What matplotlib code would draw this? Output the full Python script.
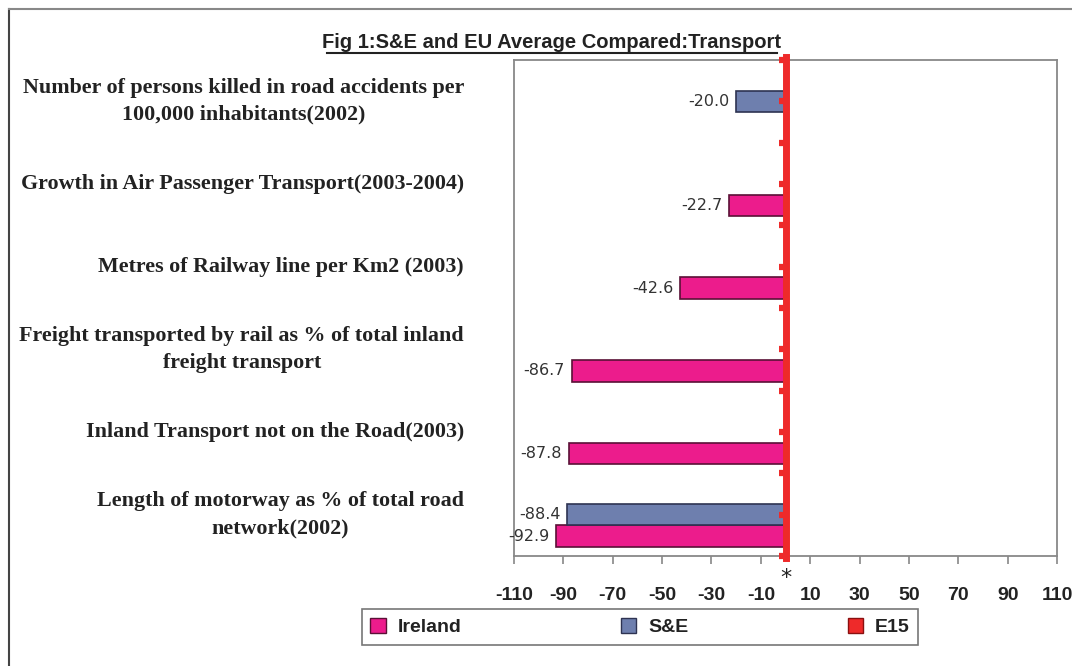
import matplotlib
matplotlib.use('Agg')
import matplotlib.pyplot as plt
import numpy as np
from matplotlib import font_manager
from matplotlib.lines import Line2D
from matplotlib.patches import Patch

categories = ['Number of persons killed in road accidents per\n100,000 inhabitants(2002)',
              'Growth in Air Passenger Transport(2003-2004)',
              'Metres of Railway line per Km2 (2003)',
              'Freight transported by rail as % of total inland\nfreight transport',
              'Inland Transport not on the Road(2003)',
              'Length of motorway as % of total road\nnetwork(2002)']
ireland = [np.nan, -22.7, -42.6, -86.7, -87.8, -92.9]
se = [-20.0, np.nan, np.nan, np.nan, np.nan, -88.4]
e15 = [0, 0, 0, 0, 0, 0]
series_names = ['Ireland', 'S&E', 'E15']
xticks = list(range(-110, 111, 20))
title = 'Fig 1:S&E and EU Average Compared:Transport'

pink = '#EC1C8C'
blue = '#6E7FAE'
red = '#EE2A2A'

names = {f.name for f in font_manager.fontManager.ttflist}
narrow = 'Liberation Sans Narrow' if 'Liberation Sans Narrow' in names else 'Liberation Sans'

W, H = 1072, 666
fig = plt.figure(figsize=(W / 100, H / 100), dpi=100)
ax = fig.add_axes([514 / W, 1 - 556 / H, (1057 - 514) / W, (556 - 60) / H])

y = np.arange(len(categories))
h = 0.26
# S&E in the middle, Ireland below, E15 above
for vals, off, col, ec in [(ireland, h, pink, '#5a1036'), (se, 0, blue, '#2e3352'), (e15, -h, red, red)]:
    for yi, v in zip(y, vals):
        if np.isnan(v) or v == 0:
            continue
        ax.barh(yi + off, v, height=h, color=col, edgecolor=ec, linewidth=1.2, zorder=2)
        ax.annotate(f'{v:.1f}', (v, yi + off), xytext=(-5, 0), textcoords='offset points',
                    ha='right', va='center', fontsize=11.5, color='#333333',
                    family='DejaVu Sans', zorder=5)

ax.set_xlim(-110, 110)
ax.set_ylim(len(categories) - 0.5, -0.5)
ax.set_xticks(xticks)
ax.set_xticklabels([str(t) for t in xticks], fontsize=14, fontweight='bold',
                   family=narrow, color='#222222')
ax.set_yticks([])
ax.tick_params(axis='x', length=6, width=1.2, color='#888888', pad=16)
for s in ax.spines.values():
    s.set_color('#888888')
    s.set_linewidth(1.3)

# red zero axis with its tick marks
ax.axvline(0, ymin=-0.004, ymax=1.007, color=red, lw=5, zorder=4, clip_on=False)
marks = np.arange(-0.5, len(categories), 0.5)
ax.hlines(marks, -2.8, 0, color=red, lw=4.5, zorder=4, clip_on=False)
ax.text(0, -0.045, '*', transform=ax.get_xaxis_transform(), ha='center', va='center',
        fontsize=16, color='#222222')

# category labels
lab_tr = matplotlib.transforms.blended_transform_factory(fig.transFigure, ax.transData)
for yi, lab in zip(y, categories):
    ax.text(464 / W, yi, lab, transform=lab_tr,
            ha='right', va='center', multialignment='center', fontsize=15.8,
            fontweight='bold', family='Liberation Serif', color='#222222', linespacing=1.45)

# title with underline
fig.text(552 / W, 1 - 42 / H, title, ha='center', va='center', fontsize=14.5,
         fontweight='bold', family=narrow, color='#222222')
fig.add_artist(Line2D([327 / W, 777 / W], [1 - 53 / H, 1 - 53 / H], color='#222222', lw=1.5))

# outer frame (top and left edges visible)
fig.add_artist(Line2D([9 / W, 9 / W], [0, 1 - 9 / H], color='#444444', lw=1.5))
fig.add_artist(Line2D([9 / W, 1], [1 - 9 / H, 1 - 9 / H], color='#888888', lw=1.5))

handles = [Patch(facecolor=pink, edgecolor='#5a1036'),
           Patch(facecolor=blue, edgecolor='#2e3352'),
           Patch(facecolor=red, edgecolor='#8a1010')]
leg = fig.legend(handles, series_names, loc='center', bbox_to_anchor=(640 / W, 1 - 627 / H),
                 ncol=3, frameon=True, fancybox=False, columnspacing=8.2, handlelength=0.8,
                 handleheight=0.8, handletextpad=0.6, borderpad=0.45, borderaxespad=0,
                 prop={'family': narrow, 'weight': 'bold', 'size': 14})
leg.get_frame().set_edgecolor('#555555')
leg.get_frame().set_linewidth(1.2)
for t in leg.get_texts():
    t.set_color('#222222')

fig.savefig('out.png', dpi=100)
